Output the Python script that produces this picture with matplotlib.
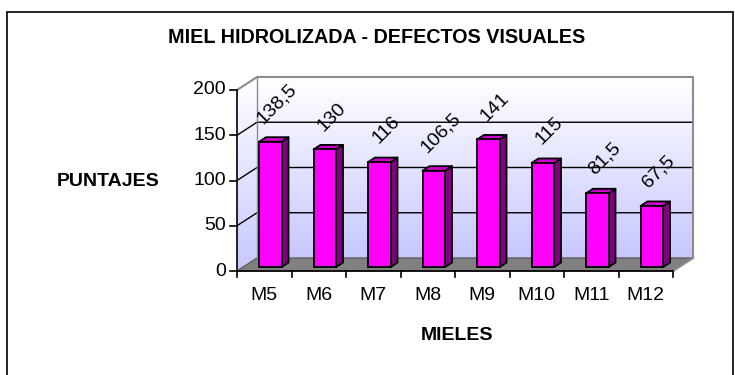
import numpy as np
import matplotlib
matplotlib.use("Agg")
import matplotlib.pyplot as plt
from matplotlib.patches import Polygon, Rectangle
from matplotlib.transforms import offset_copy

plt.rcParams['font.family'] = ['Liberation Sans', 'DejaVu Sans']

# puntajes de defectos visuales por miel
mieles = ['M5', 'M6', 'M7', 'M8', 'M9', 'M10', 'M11', 'M12']
puntajes = [138.5, 130, 116, 106.5, 141, 115, 81.5, 67.5]
etiquetas = ['138,5', '130', '116', '106,5', '141', '115', '81,5', '67,5']
y_ticks = [0, 50, 100, 150, 200]

# pixel scale of the front plane
PX_CAT = 54.5     # px per category
PX_VAL = 0.905    # px per unit of value
X0_PX, Y0_PX = 237, 271
W_PX, H_PX = 735, 375

# depth of the fake 3d box, in data units
DX = 20 / PX_CAT
DY = 13 / PX_VAL
YMAX = 200
n = len(mieles)

fig = plt.figure(figsize=(W_PX / 100, H_PX / 100), dpi=100)
ax = fig.add_axes([0, 0, 1, 1])
xlim = (-X0_PX / PX_CAT, (W_PX - X0_PX) / PX_CAT)
ylim = ((Y0_PX - H_PX) / PX_VAL, Y0_PX / PX_VAL)
ax.axis('off')

# outer chart border
fig.patches.append(Rectangle((7 / W_PX, -0.05), 726 / W_PX, 1 - 12 / H_PX + 0.05,
                             transform=fig.transFigure, fill=False,
                             edgecolor='black', lw=1.2))

# wall gradient (white on top, lavender below)
grad = np.linspace(0, 1, 256).reshape(-1, 1)
top_c = np.array([1.0, 1.0, 1.0])
bot_c = np.array([0.78, 0.78, 1.0])
img = bot_c[None, None, :] * (1 - grad[..., None]) + top_c[None, None, :] * grad[..., None]
img = img[::-1]

# back wall
ax.imshow(img, extent=[DX, n + DX, DY, YMAX + DY], aspect='auto', zorder=1,
          interpolation='bilinear')
# side wall
side = Polygon([(0, 0), (0, YMAX), (DX, YMAX + DY), (DX, DY)], closed=True,
               facecolor='none', edgecolor='none')
ax.add_patch(side)
im2 = ax.imshow(img, extent=[0, DX, 0, YMAX + DY], aspect='auto', zorder=1,
                interpolation='bilinear')
im2.set_clip_path(side)
ax.set_xlim(*xlim)
ax.set_ylim(*ylim)

# floor
ax.add_patch(Polygon([(0, 0), (n, 0), (n + DX, DY), (DX, DY)], closed=True,
                     facecolor='#808080', edgecolor='#606060', lw=1, zorder=2))

# gridlines on side and back wall
for v in y_ticks[1:-1]:
    ax.plot([0, DX, n + DX], [v, v + DY, v + DY], color='black', lw=1, zorder=2)

# wall borders
wall_c = '#8c8c8c'
ax.plot([0, DX, n + DX, n + DX], [YMAX, YMAX + DY, YMAX + DY, DY], color=wall_c, lw=1.5, zorder=2)
ax.plot([DX, DX], [DY, YMAX + DY], color=wall_c, lw=1, zorder=2)
ax.plot([n, n + DX], [0, DY], color=wall_c, lw=1.5, zorder=2)

# axes lines and ticks
tick_x = 7 / PX_CAT
tick_y = 6 / PX_VAL
ax.plot([0, 0], [0, YMAX], color='black', lw=1.2, zorder=5)
ax.plot([0, n], [0, 0], color='black', lw=1.2, zorder=5)
for v in y_ticks:
    ax.plot([-tick_x, 0], [v, v], color='black', lw=1.2, zorder=5)
    ax.text(-11 / PX_CAT, v, str(v), ha='right', va='center', fontsize=14, zorder=5)
for i in range(n + 1):
    ax.plot([i, i], [0, -tick_y], color='black', lw=1.2, zorder=5)
for i, m in enumerate(mieles):
    ax.text(i + 0.5, -25 / PX_VAL, m, ha='center', va='center', fontsize=14, zorder=5)

# 3d columns
w = 22.5 / PX_CAT
f_front = 0.3
f_depth = 0.35
lab_tr = offset_copy(ax.transData, fig=fig, x=7, y=15, units='dots')
for i, (v, lab) in enumerate(zip(puntajes, etiquetas)):
    x0 = i + 0.5 - w / 2 + f_front * DX
    y0 = f_front * DY
    ddx, ddy = f_depth * DX, f_depth * DY
    ax.add_patch(Polygon([(x0 + w, y0), (x0 + w + ddx, y0 + ddy),
                          (x0 + w + ddx, y0 + ddy + v), (x0 + w, y0 + v)],
                         closed=True, facecolor='#800080', edgecolor='black',
                         lw=1.3, zorder=3, joinstyle='round'))
    ax.add_patch(Polygon([(x0, y0 + v), (x0 + w, y0 + v),
                          (x0 + w + ddx, y0 + v + ddy), (x0 + ddx, y0 + v + ddy)],
                         closed=True, facecolor='#cc00cc', edgecolor='black',
                         lw=1.3, zorder=3, joinstyle='round'))
    ax.add_patch(Rectangle((x0, y0), w, v, facecolor='#ff00ff', edgecolor='black',
                           lw=1.3, zorder=4))
    ax.text(x0 + w / 2, y0 + v, lab, rotation=45, ha='center', va='bottom',
            fontsize=14, transform=lab_tr, zorder=6)

# titles
fig.text(377 / W_PX, 1 - 37.5 / H_PX, 'MIEL HIDROLIZADA - DEFECTOS VISUALES',
         ha='center', va='center', fontsize=14.2, fontweight='bold')
fig.text(108 / W_PX, 1 - 181 / H_PX, 'PUNTAJES', ha='center', va='center',
         fontsize=14, fontweight='bold')
fig.text(457 / W_PX, 1 - 335 / H_PX, 'MIELES', ha='center', va='center',
         fontsize=14, fontweight='bold')

fig.savefig('out.png', dpi=100)
